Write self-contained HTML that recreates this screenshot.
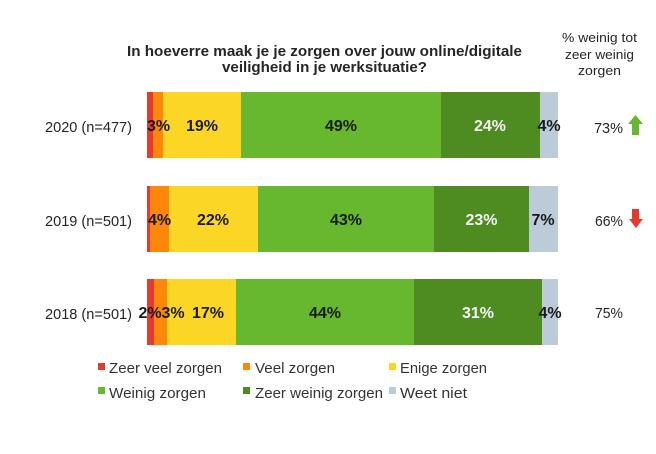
<!DOCTYPE html>
<html>
<head>
<meta charset="utf-8">
<style>
html,body{margin:0;padding:0;background:#fff;}
svg{display:block;}
text{font-family:"Liberation Sans",sans-serif;}
</style>
</head>
<body>
<svg width="656" height="454" viewBox="0 0 656 454" xmlns="http://www.w3.org/2000/svg">
<rect width="656" height="454" fill="#fff"/>
<!-- Title -->
<text x="127" y="56" font-size="15" font-weight="bold" fill="#262626" textLength="395" lengthAdjust="spacingAndGlyphs">In hoeverre maak je je zorgen over jouw online/digitale</text>
<text x="222" y="72" font-size="15" font-weight="bold" fill="#262626" textLength="205" lengthAdjust="spacingAndGlyphs">veiligheid in je werksituatie?</text>
<!-- Right header -->
<text x="562" y="42" font-size="13" fill="#262626" textLength="75" lengthAdjust="spacingAndGlyphs">% weinig tot</text>
<text x="565" y="59" font-size="13" fill="#262626" textLength="69" lengthAdjust="spacingAndGlyphs">zeer weinig</text>
<text x="578" y="75" font-size="13" fill="#262626" textLength="43" lengthAdjust="spacingAndGlyphs">zorgen</text>

<!-- Row 2020 -->
<rect x="147" y="92" width="6" height="66" fill="#e53a2e"/>
<rect x="153" y="92" width="10" height="66" fill="#fd8708"/>
<rect x="163" y="92" width="78" height="66" fill="#fcd624"/>
<rect x="241" y="92" width="200" height="66" fill="#67b82e"/>
<rect x="441" y="92" width="99" height="66" fill="#4e8c22"/>
<rect x="540" y="92" width="18" height="66" fill="#bbccd8"/>
<text x="45" y="132" font-size="15" fill="#262626" textLength="87" lengthAdjust="spacingAndGlyphs">2020 (n=477)</text>
<g font-size="16" font-weight="bold" fill="#1a1a1a" text-anchor="middle">
<text x="158.5" y="131">3%</text>
<text x="202" y="131">19%</text>
<text x="341" y="131">49%</text>
<text x="490" y="131" fill="#f4f4f4">24%</text>
<text x="549" y="131">4%</text>
</g>
<text x="594" y="133" font-size="15" fill="#262626" textLength="29" lengthAdjust="spacingAndGlyphs">73%</text>
<polygon points="635.5,115 643,124 639,124 639,135 632,135 632,124 628,124" fill="#67b82e"/>

<!-- Row 2019 -->
<rect x="147" y="186" width="3" height="66" fill="#e53a2e"/>
<rect x="150" y="186" width="19" height="66" fill="#fd8708"/>
<rect x="169" y="186" width="89" height="66" fill="#fcd624"/>
<rect x="258" y="186" width="176" height="66" fill="#67b82e"/>
<rect x="434" y="186" width="95" height="66" fill="#4e8c22"/>
<rect x="529" y="186" width="29" height="66" fill="#bbccd8"/>
<text x="45" y="226" font-size="15" fill="#262626" textLength="87" lengthAdjust="spacingAndGlyphs">2019 (n=501)</text>
<g font-size="16" font-weight="bold" fill="#1a1a1a" text-anchor="middle">
<text x="159.5" y="225">4%</text>
<text x="213" y="225">22%</text>
<text x="346" y="225">43%</text>
<text x="481.5" y="225" fill="#f4f4f4">23%</text>
<text x="543" y="225">7%</text>
</g>
<text x="595" y="226" font-size="15" fill="#262626" textLength="28" lengthAdjust="spacingAndGlyphs">66%</text>
<polygon points="632,209 639,209 639,219 643,219 636,228 629,219 632,219" fill="#e53a2e"/>

<!-- Row 2018 -->
<rect x="147" y="279" width="7" height="66" fill="#e53a2e"/>
<rect x="154" y="279" width="13" height="66" fill="#fd8708"/>
<rect x="167" y="279" width="69" height="66" fill="#fcd624"/>
<rect x="236" y="279" width="178" height="66" fill="#67b82e"/>
<rect x="414" y="279" width="128" height="66" fill="#4e8c22"/>
<rect x="542" y="279" width="16" height="66" fill="#bbccd8"/>
<text x="45" y="319" font-size="15" fill="#262626" textLength="87" lengthAdjust="spacingAndGlyphs">2018 (n=501)</text>
<g font-size="16" font-weight="bold" fill="#1a1a1a" text-anchor="middle">
<text x="150" y="318">2%</text>
<text x="173" y="318">3%</text>
<text x="208" y="318">17%</text>
<text x="325" y="318">44%</text>
<text x="478" y="318" fill="#f4f4f4">31%</text>
<text x="550" y="318">4%</text>
</g>
<text x="595" y="318" font-size="15" fill="#262626" textLength="28" lengthAdjust="spacingAndGlyphs">75%</text>

<!-- Legend -->
<rect x="98" y="363" width="7" height="7" fill="#e53a2e"/>
<text x="109" y="373" font-size="15" fill="#333" textLength="113" lengthAdjust="spacingAndGlyphs">Zeer veel zorgen</text>
<rect x="243" y="363" width="7" height="7" fill="#fd8708"/>
<text x="255" y="373" font-size="15" fill="#333" textLength="80" lengthAdjust="spacingAndGlyphs">Veel zorgen</text>
<rect x="389" y="363" width="7" height="7" fill="#fcd624"/>
<text x="400" y="373" font-size="15" fill="#333" textLength="87" lengthAdjust="spacingAndGlyphs">Enige zorgen</text>

<rect x="98" y="387" width="7" height="7" fill="#67b82e"/>
<text x="109" y="398" font-size="15" fill="#333" textLength="97" lengthAdjust="spacingAndGlyphs">Weinig zorgen</text>
<rect x="243" y="387" width="7" height="7" fill="#4e8c22"/>
<text x="255" y="398" font-size="15" fill="#333" textLength="128" lengthAdjust="spacingAndGlyphs">Zeer weinig zorgen</text>
<rect x="389" y="387" width="7" height="7" fill="#bbccd8"/>
<text x="400" y="398" font-size="15" fill="#333" textLength="67" lengthAdjust="spacingAndGlyphs">Weet niet</text>
</svg>
</body>
</html>
